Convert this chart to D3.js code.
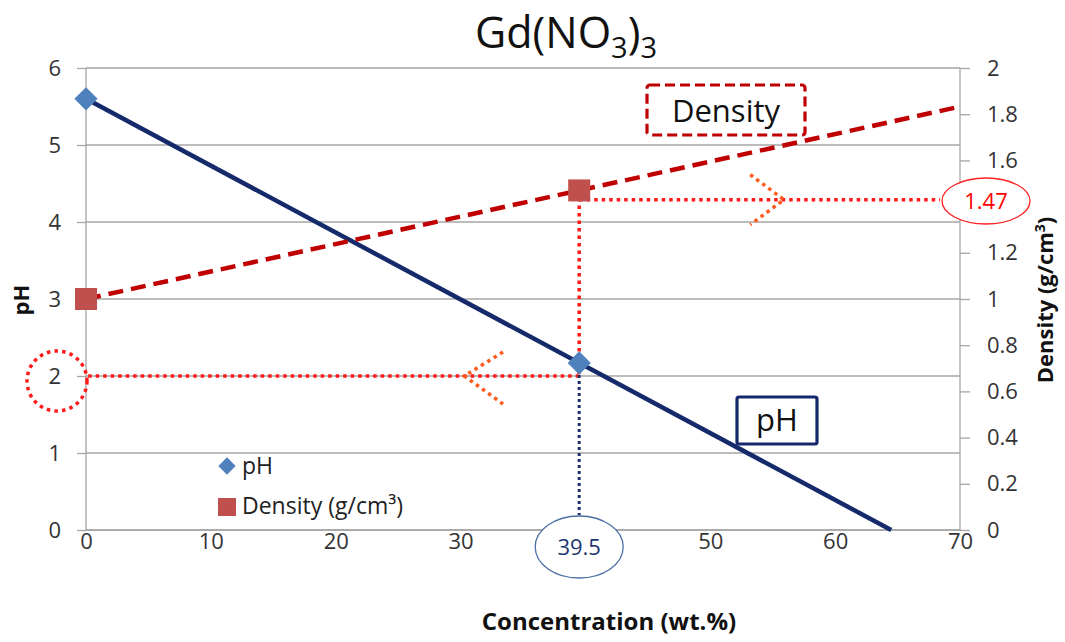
<!DOCTYPE html>
<html>
<head>
<meta charset="utf-8">
<script src="https://cdn.jsdelivr.net/npm/d3@7/dist/d3.min.js"></script>
<style>
  html, body { margin: 0; padding: 0; background: #fff; }
  svg { display: block; font-family: "Open Sans", Lato, sans-serif; }
</style>
</head>
<body>
<svg id="chart" width="1065" height="642"></svg>
<script>
// Measured samples: concentration (wt.%) against pH and density
const concentration = [0, 39.5];
const phValues = [5.6, 2.17];
const densityValues = [1.0, 1.47];

// Axis ticks
const xTicks = [0, 10, 20, 30, 40, 50, 60, 70];
const phTicks = [0, 1, 2, 3, 4, 5, 6];
const densityTicks = [0, 0.2, 0.4, 0.6, 0.8, 1, 1.2, 1.4, 1.6, 1.8, 2];

// Reading guides
const readConcentration = 39.5;
const readPh = 2;
const readDensityGuide = 1.43;
const readDensityLabel = "1.47";
const readConcentrationLabel = "39.5";

const FONT = "'Open Sans', Lato, sans-serif";
const svg = d3.select("#chart");
const m = { left: 86, right: 960, top: 68, bottom: 530 };

const x = d3.scaleLinear().domain([0, 70]).range([m.left, m.right]);
const yL = d3.scaleLinear().domain([0, 6]).range([m.bottom, m.top]);
const yR = d3.scaleLinear().domain([0, 2]).range([m.bottom, m.top]);

const grid = "#a6a6a6";
const tickColor = "#333";

// Horizontal gridlines
svg.append("g").selectAll("line").data(phTicks).join("line")
  .attr("x1", m.left).attr("x2", m.right)
  .attr("y1", d => yL(d)).attr("y2", d => yL(d))
  .attr("stroke", grid).attr("stroke-width", 1.3);

// Tick labels sitting under a callout are covered by it
const hiddenX = [40];
const hiddenR = [1.4];

const gL = svg.append("g").attr("transform", `translate(${m.left},0)`)
  .call(d3.axisLeft(yL).tickValues(phTicks).tickSize(9).tickPadding(16).tickFormat(d3.format("d")));
const gR = svg.append("g").attr("transform", `translate(${m.right},0)`)
  .call(d3.axisRight(yR).tickValues(densityTicks).tickSize(10).tickPadding(17)
    .tickFormat(d => hiddenR.includes(d) ? "" : d3.format("~g")(d)));
const gB = svg.append("g").attr("transform", `translate(0,${m.bottom})`)
  .call(d3.axisBottom(x).tickValues(xTicks).tickSize(0).tickPadding(3)
    .tickFormat(d => hiddenX.includes(d) ? "" : d3.format("d")(d)));

[gL, gR, gB].forEach(g => {
  g.select(".domain").attr("stroke", grid).attr("stroke-width", 1.3);
  g.selectAll(".tick line").attr("stroke", grid).attr("stroke-width", 1.3);
  g.selectAll(".tick text").attr("fill", tickColor).style("font-size", "22px").style("font-family", FONT);
});
gL.select(".domain").attr("d", `M0,${m.bottom}V${m.top}`);
gR.select(".domain").attr("d", `M0,${m.bottom}V${m.top}`);
gB.select(".domain").attr("d", `M${m.left},0H${m.right}`);

// Linear trend through two points, clipped to the plotted range
function trend(xs, ys, x0, x1, yMin) {
  const k = (ys[1] - ys[0]) / (xs[1] - xs[0]);
  const b = ys[0] - k * xs[0];
  let xe = x1;
  if (yMin !== undefined && k < 0) xe = Math.min(x1, (yMin - b) / k);
  return [[x0, k * x0 + b], [xe, k * xe + b]];
}

// pH trend line
const phLine = trend(concentration, phValues, 0, 70, 0);
svg.append("path")
  .attr("d", d3.line().x(d => x(d[0])).y(d => yL(d[1]))(phLine))
  .attr("fill", "none").attr("stroke", "#152a6b").attr("stroke-width", 4.5);

// Density trend line
const dLine = trend(concentration, densityValues, 0, 70);
svg.append("path")
  .attr("d", d3.line().x(d => x(d[0])).y(d => yR(d[1]))(dLine))
  .attr("fill", "none").attr("stroke", "#c00000").attr("stroke-width", 4.5)
  .attr("stroke-dasharray", "15,8");

// Reading guides
const red = "#ff1a1a";
const orange = "#ff5a1f";
function dotted(g, d, color) {
  return g.append("path").attr("d", d).attr("stroke", color)
    .attr("stroke-width", 3.5).attr("stroke-dasharray", "3.5,4").attr("fill", "none");
}
const guides = svg.append("g");
dotted(guides, `M${x(readConcentration)},${yL(readPh)}H${x(0)}`, red);
dotted(guides, `M${x(readConcentration)},${yR(densityValues[1])}V${yL(readPh)}`, red);
dotted(guides, `M${x(readConcentration)},${yR(readDensityGuide)}H${940}`, red);
const cy1 = yR(readDensityGuide);
dotted(guides, `M${x(53.2)},${cy1 - 25}L${x(55.9)},${cy1}L${x(53.2)},${cy1 + 25}`, orange);
const cy2 = yL(readPh);
dotted(guides, `M${x(33.4)},${cy2 - 24}L${x(30.3)},${cy2}L${x(33.4)},${cy2 + 28}`, orange);
svg.append("path")
  .attr("d", `M${x(readConcentration)},${yL(phValues[1])}V${515}`)
  .attr("stroke", "#1f2f6e").attr("stroke-width", 3).attr("stroke-dasharray", "3,3").attr("fill", "none");

// dotted ring around the pH axis reading
svg.append("circle").attr("cx", 57).attr("cy", 381).attr("r", 30)
  .attr("fill", "none").attr("stroke", red).attr("stroke-width", 3.5)
  .attr("stroke-dasharray", "3.5,4.2");

// Markers
svg.append("g").selectAll("path").data(concentration).join("path")
  .attr("d", d3.symbol().type(d3.symbolSquare).size(270))
  .attr("transform", (d, i) => `translate(${x(d)},${yL(phValues[i])}) rotate(45)`)
  .attr("fill", "#4f81bd");
svg.append("g").selectAll("rect").data(concentration).join("rect")
  .attr("x", d => x(d) - 11).attr("y", (d, i) => yR(densityValues[i]) - 11)
  .attr("width", 22).attr("height", 22).attr("fill", "#c0504d");

// Value callouts
svg.append("ellipse").attr("cx", 986).attr("cy", 201).attr("rx", 44).attr("ry", 23)
  .attr("fill", "#fff").attr("stroke", "#ff2020").attr("stroke-width", 1.3);
svg.append("text").attr("x", 986).attr("y", 209).attr("text-anchor", "middle")
  .attr("fill", "#ff0000").style("font-size", "22px").text(readDensityLabel);

svg.append("ellipse").attr("cx", x(readConcentration)).attr("cy", 547).attr("rx", 44).attr("ry", 31)
  .attr("fill", "#fff").attr("stroke", "#4a6fa5").attr("stroke-width", 1.3);
svg.append("text").attr("x", x(readConcentration)).attr("y", 555).attr("text-anchor", "middle")
  .attr("fill", "#1f3570").style("font-size", "22px").text(readConcentrationLabel);

// Series name boxes
svg.append("rect").attr("x", 647).attr("y", 85).attr("width", 158).attr("height", 50).attr("rx", 3)
  .attr("fill", "#fff").attr("stroke", "#c00000").attr("stroke-width", 3.2).attr("stroke-dasharray", "10,5");
svg.append("text").attr("x", 726).attr("y", 122).attr("text-anchor", "middle")
  .attr("fill", "#111").style("font-size", "31px").text("Density");

svg.append("rect").attr("x", 737).attr("y", 397).attr("width", 80).attr("height", 47).attr("rx", 2)
  .attr("fill", "#fff").attr("stroke", "#14286b").attr("stroke-width", 3.2);
svg.append("text").attr("x", 777).attr("y", 431).attr("text-anchor", "middle")
  .attr("fill", "#111").style("font-size", "31px").text("pH");

// Legend
const lg = svg.append("g");
lg.append("path").attr("d", d3.symbol().type(d3.symbolSquare).size(150))
  .attr("transform", "translate(227,466) rotate(45)").attr("fill", "#4f81bd");
lg.append("text").attr("x", 242).attr("y", 474).attr("fill", "#222").style("font-size", "23px").text("pH");
lg.append("rect").attr("x", 218).attr("y", 498).attr("width", 18).attr("height", 18).attr("fill", "#c0504d");
lg.append("text").attr("x", 242).attr("y", 514).attr("fill", "#222").style("font-size", "23px").text("Density (g/cm³)");

// Title
const title = svg.append("text").attr("x", 566).attr("y", 48).attr("text-anchor", "middle")
  .attr("fill", "#111").style("font-size", "43px");
title.append("tspan").text("Gd(NO");
title.append("tspan").attr("dy", 10).style("font-size", "29px").text("3");
title.append("tspan").attr("dy", -10).text(")");
title.append("tspan").attr("dy", 10).style("font-size", "29px").text("3");

// Axis titles
svg.append("text").attr("x", 609).attr("y", 630).attr("text-anchor", "middle")
  .attr("fill", "#111").style("font-size", "24px").style("font-weight", "bold").text("Concentration (wt.%)");
svg.append("text").attr("transform", "translate(29,300) rotate(-90)").attr("text-anchor", "middle")
  .attr("fill", "#111").style("font-size", "22px").style("font-weight", "bold").text("pH");
const rt = svg.append("text").attr("transform", "translate(1053,300) rotate(-90)").attr("text-anchor", "middle")
  .attr("fill", "#111").style("font-size", "22px").style("font-weight", "bold");
rt.append("tspan").text("Density (g/cm");
rt.append("tspan").attr("dy", -8).style("font-size", "14px").text("3");
rt.append("tspan").attr("dy", 8).text(")");
</script>
</body>
</html>
